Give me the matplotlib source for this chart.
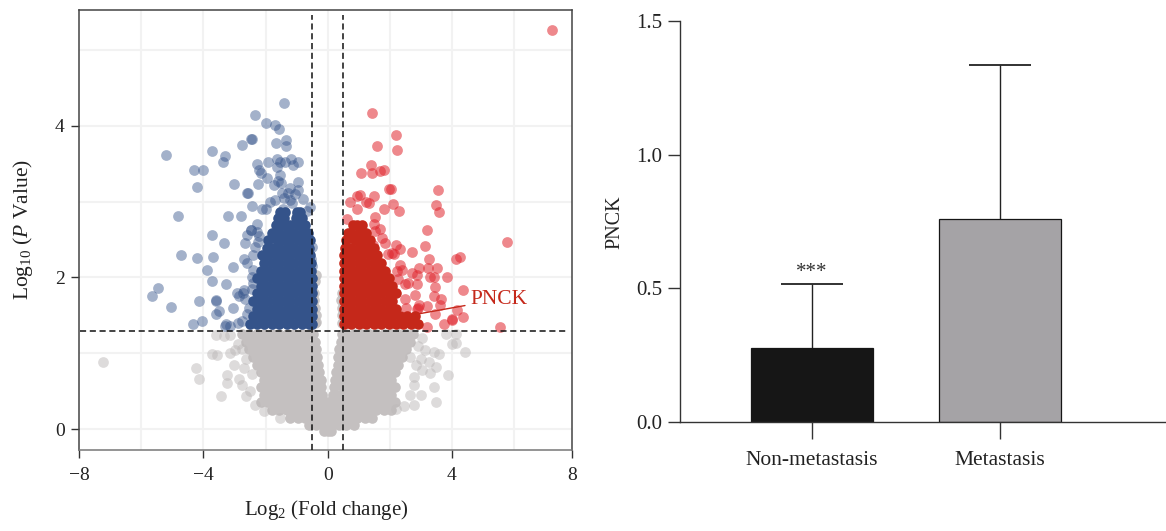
import matplotlib
matplotlib.use('Agg')
import matplotlib.pyplot as plt

plt.rcParams['font.family'] = ['Liberation Serif', 'DejaVu Serif']
plt.rcParams['mathtext.fontset'] = 'custom'
plt.rcParams['mathtext.rm'] = 'Liberation Serif'
plt.rcParams['mathtext.it'] = 'Liberation Serif:italic'

# volcano plot, values (x = log2 FC, y = log10 P)
gray_rows = [
    (1.25, [-2.76, -2.52, -2.28, -2.04, -1.8, -1.56, -1.32, -1.08, -0.84, -0.6, -0.46, 0.47, 0.6, 0.84, 1.08, 1.32, 1.56, 1.8, 2.04, 2.28, 2.52, 2.76]),
    (1.15, [-2.64, -2.4, -2.16, -1.92, -1.68, -1.44, -1.2, -0.96, -0.72, -0.42, 0.43, 0.72, 0.96, 1.2, 1.44, 1.68, 1.92, 2.16, 2.4, 2.64]),
    (1.05, [-2.52, -2.28, -2.04, -1.8, -1.56, -1.32, -1.08, -0.84, -0.6, -0.38, 0.38, 0.6, 0.84, 1.08, 1.32, 1.56, 1.8, 2.04, 2.28, 2.52]),
    (0.95, [-2.4, -2.16, -1.92, -1.68, -1.44, -1.2, -0.96, -0.72, -0.5, -0.34, 0.34, 0.5, 0.72, 0.96, 1.2, 1.44, 1.68, 1.92, 2.16, 2.4]),
    (0.85, [-2.28, -2.04, -1.8, -1.56, -1.32, -1.08, -0.84, -0.6, -0.32, 0.32, 0.6, 0.84, 1.08, 1.32, 1.56, 1.8, 2.04, 2.28]),
    (0.75, [-2.16, -1.92, -1.68, -1.44, -1.2, -0.96, -0.72, -0.48, -0.27, 0.27, 0.48, 0.72, 0.96, 1.2, 1.44, 1.68, 1.92, 2.16]),
    (0.65, [-2.04, -1.8, -1.56, -1.32, -1.08, -0.84, -0.6, -0.4, -0.23, 0.23, 0.4, 0.6, 0.84, 1.08, 1.32, 1.56, 1.8, 2.04]),
    (0.55, [-2.16, -1.92, -1.68, -1.44, -1.2, -0.96, -0.72, -0.48, -0.2, 0.2, 0.48, 0.72, 0.96, 1.2, 1.44, 1.68, 1.92, 2.16]),
    (0.45, [-2.04, -1.8, -1.56, -1.32, -1.08, -0.84, -0.6, -0.36, -0.17, 0.17, 0.36, 0.6, 0.84, 1.08, 1.32, 1.56, 1.8, 2.04]),
    (0.35, [-2.16, -1.92, -1.68, -1.44, -1.2, -0.96, -0.72, -0.48, -0.24, 0.0, 0.24, 0.48, 0.72, 0.96, 1.2, 1.44, 1.68, 1.92, 2.16]),
    (0.25, [-1.8, -1.56, -1.32, -1.08, -0.84, -0.6, -0.36, -0.12, 0.12, 0.36, 0.6, 0.84, 1.08, 1.32, 1.56, 1.8, 2.04]),
    (0.15, [-1.2, -0.96, -0.72, -0.48, -0.24, 0.0, 0.24, 0.48, 0.72, 0.96, 1.2, 1.44]),
    (0.05, [-0.6, -0.36, -0.12, 0.12, 0.36, 0.6, 0.84]),
    (-0.02, [-0.12, 0.0, 0.12]),
]
gray_side = [(-0.42, 1.4), (-0.39, 1.41), (-0.38, 1.5), (-0.42, 1.6), (-0.45, 1.7), (-0.45, 1.8), (-0.42, 1.95), (-0.39, 2.03),
             (0.46, 1.4), (0.45, 1.5), (0.45, 1.6), (0.44, 1.7), (0.46, 1.8)]
gray_out = [(-7.25, 0.89), (-4.23, 0.80), (-4.15, 0.66), (-3.44, 0.43), (-2.62, 0.43), (-3.23, 0.71), (-3.23, 0.61),
            (-3.71, 0.99), (-3.58, 0.98), (-3.13, 1.0), (-2.97, 1.04), (-3.6, 1.24), (-3.34, 1.23), (-3.15, 1.24),
            (-3.02, 0.84), (-2.86, 0.66), (-2.7, 0.8), (-2.64, 0.93), (-2.75, 0.58), (-2.9, 1.12), (-2.75, 1.05),
            (3.8, 1.26), (4.12, 1.25), (4.0, 1.12), (4.14, 1.14), (4.43, 1.02), (3.41, 1.02), (3.57, 0.99), (3.15, 1.04),
            (2.99, 0.92), (3.25, 0.89), (3.5, 0.82), (3.31, 0.74), (3.87, 0.71), (3.04, 0.78), (2.77, 0.69), (2.77, 0.58),
            (3.44, 0.56), (3.5, 0.36), (3.0, 0.45), (2.66, 0.45), (2.77, 0.32), (2.45, 0.30), (2.2, 0.26), (2.66, 0.95),
            (2.85, 0.85), (3.05, 1.2), (2.9, 1.1), (-2.45, 0.72), (-2.5, 0.5), (-2.35, 0.32), (-2.05, 0.24), (-1.55, 0.15)]

blue_rows = [
    (1.39, [-2.5, -2.28, -2.04, -1.8, -1.56, -1.32, -1.08, -0.84, -0.6, -0.52]),
    (1.49, [-2.4, -2.16, -1.92, -1.68, -1.44, -1.2, -0.96, -0.72, -0.52]),
    (1.59, [-2.28, -2.04, -1.8, -1.56, -1.32, -1.08, -0.84, -0.6, -0.52]),
    (1.69, [-2.4, -2.16, -1.92, -1.68, -1.44, -1.2, -0.96, -0.72, -0.52]),
    (1.79, [-2.28, -2.04, -1.8, -1.56, -1.32, -1.08, -0.84, -0.6, -0.52]),
    (1.89, [-2.16, -1.92, -1.68, -1.44, -1.2, -0.96, -0.72, -0.52]),
    (1.99, [-2.28, -2.04, -1.8, -1.56, -1.32, -1.08, -0.84, -0.6, -0.52]),
    (2.09, [-2.16, -1.92, -1.68, -1.44, -1.2, -0.96, -0.72, -0.54]),
    (2.19, [-2.04, -1.8, -1.56, -1.32, -1.08, -0.84, -0.6, -0.54]),
    (2.29, [-2.12, -1.92, -1.68, -1.44, -1.2, -0.96, -0.72, -0.56]),
    (2.39, [-1.96, -1.8, -1.56, -1.32, -1.08, -0.84, -0.6]),
    (2.49, [-1.92, -1.62, -1.44, -1.2, -0.96, -0.72, -0.58]),
    (2.59, [-1.8, -1.56, -1.32, -1.08, -0.84, -0.62]),
    (2.69, [-1.68, -1.44, -1.2, -0.96, -0.72]),
    (2.79, [-1.6, -1.4, -1.02, -0.84]),
    (2.87, [-1.52, -1.36, -1.0, -0.9]),
]
blue_out = [(-1.41, 4.30), (-2.34, 4.15), (-2.0, 4.04), (-1.71, 4.01), (-1.57, 3.96), (-1.33, 3.81), (-1.65, 3.78), (-1.33, 3.74),
            (-2.48, 3.83), (-2.45, 3.83), (-2.75, 3.75), (-3.74, 3.67), (-5.22, 3.61), (-3.31, 3.60), (-3.36, 3.53), (-4.32, 3.42),
            (-4.02, 3.42), (-4.2, 3.20), (-3.03, 3.23), (-2.6, 3.12), (-2.58, 3.11), (-2.25, 3.23), (-2.29, 3.50), (-1.93, 3.52),
            (-1.62, 3.56), (-1.53, 3.52), (-1.37, 3.52), (-1.19, 3.56), (-1.13, 3.48), (-0.94, 3.53), (-1.64, 3.46), (-2.2, 3.42),
            (-2.15, 3.38), (-1.96, 3.31), (-1.53, 3.35), (-1.59, 3.27), (-1.51, 3.25), (-1.73, 3.22), (-0.97, 3.26), (-1.21, 3.18),
            (-1.48, 3.11), (-1.27, 3.11), (-0.94, 3.15), (-1.7, 3.02), (-1.2, 3.02), (-0.79, 3.04), (-1.15, 2.98), (-2.12, 2.9),
            (-2.0, 2.91), (-0.57, 2.93), (-0.68, 2.88), (-1.43, 2.91), (-1.0, 2.84), (-1.85, 3.0), (-1.4, 3.05), (-1.05, 3.1),
            (-4.83, 2.81), (-3.22, 2.81), (-2.8, 2.81), (-2.45, 2.94), (-3.73, 2.56), (-3.33, 2.46), (-2.28, 2.70), (-2.48, 2.63),
            (-2.46, 2.62), (-2.27, 2.60), (-2.6, 2.56), (-2.65, 2.46), (-2.25, 2.47), (-0.49, 2.40), (-4.71, 2.30), (-4.2, 2.26),
            (-3.68, 2.27), (-3.88, 2.10), (-3.06, 2.14), (-3.71, 1.95), (-3.27, 1.91), (-5.45, 1.86), (-5.66, 1.76), (-5.04, 1.61),
            (-4.16, 1.69), (-3.6, 1.69), (-3.59, 1.70), (-3.05, 1.60), (-3.5, 1.56), (-3.6, 1.52), (-4.35, 1.39), (-4.06, 1.43),
            (-3.29, 1.39), (-2.6, 2.19), (-2.7, 2.25), (-2.42, 2.30), (-2.4, 2.10), (-2.45, 2.0), (-2.42, 1.93), (-2.72, 1.8),
            (-2.93, 1.8), (-2.85, 1.76), (-2.7, 1.84), (-2.45, 1.85), (-2.65, 1.72), (-2.9, 1.4), (-2.6, 1.52), (-3.3, 1.36),
            (-3.15, 1.36), (-2.75, 1.42), (-2.55, 1.6), (-2.35, 2.4), (-2.2, 2.55), (-0.52, 2.15), (-0.53, 2.25)]

red_rows = [
    (1.39, [0.52, 0.76, 1.0, 1.24, 1.48, 1.72, 1.96, 2.2, 2.44, 2.68, 2.92]),
    (1.49, [0.52, 0.64, 0.88, 1.12, 1.36, 1.6, 1.84, 2.08, 2.32, 2.56, 2.8]),
    (1.59, [0.52, 0.76, 1.0, 1.24, 1.48, 1.72, 1.96, 2.2]),
    (1.69, [0.52, 0.64, 0.88, 1.12, 1.36, 1.6, 1.84, 2.08]),
    (1.79, [0.52, 0.76, 1.0, 1.24, 1.48, 1.72, 1.96, 2.2]),
    (1.89, [0.52, 0.64, 0.88, 1.12, 1.36, 1.6, 1.84, 2.08]),
    (1.99, [0.52, 0.76, 1.0, 1.24, 1.48, 1.72, 1.96]),
    (2.09, [0.52, 0.64, 0.88, 1.12, 1.36, 1.6, 1.84]),
    (2.19, [0.52, 0.76, 1.0, 1.24, 1.48, 1.72]),
    (2.29, [0.52, 0.64, 0.88, 1.12, 1.36, 1.6]),
    (2.39, [0.56, 0.76, 1.0, 1.24, 1.48]),
    (2.49, [0.6, 0.88, 1.12, 1.36]),
    (2.59, [0.66, 0.76, 1.0, 1.24]),
    (2.69, [0.8, 0.96, 1.12]),
]
red_out = [(7.22, 5.27), (1.43, 4.17), (2.21, 3.88), (1.58, 3.73), (2.23, 3.68), (1.41, 3.48), (1.43, 3.38), (1.08, 3.38),
           (1.70, 3.41), (1.83, 3.42), (3.56, 3.16), (1.97, 3.17), (2.04, 3.17), (1.03, 3.09), (0.95, 3.07), (1.48, 3.07),
           (0.71, 3.0), (1.22, 3.0), (1.32, 2.98), (2.09, 2.97), (3.49, 2.96), (3.58, 2.87), (2.29, 2.88), (1.81, 2.9),
           (0.95, 2.91), (0.61, 2.77), (1.54, 2.8), (1.48, 2.71), (1.70, 2.64), (1.54, 2.61), (3.21, 2.62), (1.75, 2.52),
           (1.86, 2.46), (1.45, 2.43), (5.79, 2.47), (3.13, 2.42), (2.2, 2.43), (2.34, 2.38), (2.07, 2.32), (1.94, 2.31),
           (2.15, 2.31), (2.72, 2.33), (3.25, 2.25), (4.13, 2.24), (4.26, 2.27), (2.34, 2.16), (2.93, 2.12), (3.22, 2.12),
           (3.52, 2.12), (2.23, 2.08), (2.72, 2.06), (2.88, 2.03), (3.31, 2.0), (3.41, 2.0), (3.84, 2.0), (2.58, 1.93),
           (2.88, 1.91), (2.5, 1.92), (3.45, 1.87), (4.36, 1.83), (2.82, 1.77), (3.43, 1.75), (2.48, 1.72), (3.65, 1.72),
           (2.93, 1.64), (2.53, 1.6), (3.2, 1.63), (3.63, 1.64), (4.18, 1.57), (3.47, 1.52), (4.35, 1.48), (4.01, 1.45),
           (3.99, 1.44), (3.76, 1.39), (3.2, 1.35), (5.54, 1.35), (2.88, 1.59), (2.9, 1.6), (2.25, 1.98), (2.4, 2.1)]

logfc_cut = 0.5
logp_cut = 1.3
pnck_point = (2.66, 1.5)

# bar chart
groups = ['Non-metastasis', 'Metastasis']
means = [0.275, 0.76]
err_top = [0.518, 1.335]
bar_colors = ['#161616', '#a5a3a6']


def flatten(rows):
    xs, ys = [], []
    for y, row in rows:
        xs += row
        ys += [y] * len(row)
    return xs, ys


W, H = 1166, 531
fig = plt.figure(figsize=(W / 100, H / 100), dpi=100)

ax = fig.add_axes([79.3 / W, 1 - 450 / H, (571.7 - 79.3) / W, 440 / H])
ax.set_xlim(-7.97, 7.86)
ax.set_ylim(-0.277, 5.53)

for gx in [-6, -4, -2, 0, 2, 4, 6]:
    ax.axvline(gx, color='#f2f2f2', lw=1.5, zorder=0)
for gy in [0, 1, 2, 3, 4, 5]:
    ax.axhline(gy, color='#f2f2f2', lw=1.5, zorder=0)

gx, gy = flatten(gray_rows)
ax.scatter(gx, gy, s=58, color='#c4c0c0', lw=0, zorder=2)
ax.scatter(*zip(*gray_side), s=58, color='#bdb9b9', alpha=0.8, lw=0, zorder=2)
ax.scatter(*zip(*gray_out), s=60, color='#bdb9b9', alpha=0.5, lw=0, zorder=2)

bx, by = flatten(blue_rows)
ax.scatter(*zip(*blue_out), s=60, color='#34538a', alpha=0.45, lw=0, zorder=3)
ax.scatter(bx, by, s=58, color='#34538a', lw=0, zorder=3)

rx, ry = flatten(red_rows)
ax.scatter(*zip(*red_out), s=60, color='#e0262e', alpha=0.55, lw=0, zorder=3)
ax.scatter(rx, ry, s=58, color='#c5281a', lw=0, zorder=3)

dash = (0, (4, 2.4))
ax.plot([-logfc_cut, -logfc_cut], [-0.277, 5.47], color='#111111', lw=1.1, ls=dash, zorder=4)
ax.plot([logfc_cut, logfc_cut], [-0.277, 5.47], color='#111111', lw=1.1, ls=dash, zorder=4)
ax.plot([-7.97, 7.75], [logp_cut, logp_cut], color='#111111', lw=1.1, ls=dash, zorder=4)

ax.annotate('PNCK', xy=pnck_point, xytext=(4.6, 1.71), color='#c5281a', fontsize=15.5, va='center',
            arrowprops=dict(arrowstyle='-', color='#c5281a', lw=1, shrinkA=2, shrinkB=0), zorder=5)

ax.set_xticks([-8, -4, 0, 4, 7.86])
ax.set_xticklabels(['\u22128', '\u22124', '0', '4', '8'], fontsize=14)
ax.set_yticks([0, 2, 4])
ax.set_yticklabels(['0', '2', '4'], fontsize=14)
ax.tick_params(length=5.5, width=1, color='#333333', labelcolor='#222222')
ax.tick_params(axis='y', pad=5)
ax.tick_params(axis='x', pad=6.5)
for side in ax.spines:
    ax.spines[side].set_color('#444444')
    ax.spines[side].set_linewidth(1.1)
ax.spines['bottom'].set_color('#777777')
fig.text(326 / W, 1 - 510 / H, 'Log$_2$ (Fold change)', fontsize=15, ha='center', va='center', color='#222222')
fig.text(23 / W, 1 - 230 / H, 'Log$_{10}$ ($P$ Value)', fontsize=15.5, rotation=90, ha='center', va='center', color='#222222')

# right panel
ax2 = fig.add_axes([680 / W, 1 - 422 / H, (1166 - 680) / W, 401 / H])
ax2.set_xlim(-0.702, 1.883)
ax2.set_ylim(0, 1.5)
pos = [0, 1]
ax2.bar(pos, means, width=0.644, color=bar_colors, edgecolor='#161616', linewidth=0.9, zorder=2)
ax2.vlines(pos, means, err_top, color='#222222', lw=1, zorder=1)
ax2.hlines(err_top, [p - 0.167 for p in pos], [p + 0.167 for p in pos], color='#222222', lw=1.3, zorder=1)
ax2.text(0, 0.56, '***', fontsize=15, ha='center', va='center', color='#333333')
ax2.set_xticks(pos)
ax2.set_xticklabels(groups, fontsize=15.5)
ax2.set_yticks([0, 0.5, 1.0, 1.5])
ax2.set_yticklabels(['0.0', '0.5', '1.0', '1.5'], fontsize=15)
ax2.tick_params(axis='y', length=9, width=1, color='#333333', labelcolor='#222222', pad=3.5)
ax2.tick_params(axis='x', length=12, width=1, color='#333333', labelcolor='#222222', pad=9)
ax2.spines['top'].set_visible(False)
ax2.spines['right'].set_visible(False)
ax2.spines['left'].set_color('#333333')
ax2.spines['bottom'].set_color('#333333')
ax2.spines['left'].set_linewidth(1)
ax2.spines['bottom'].set_linewidth(1)
fig.text(615 / W, 1 - 222 / H, 'PNCK', fontsize=14.5, rotation=90, ha='center', va='center', color='#222222')

fig.savefig('out.png', dpi=100)
